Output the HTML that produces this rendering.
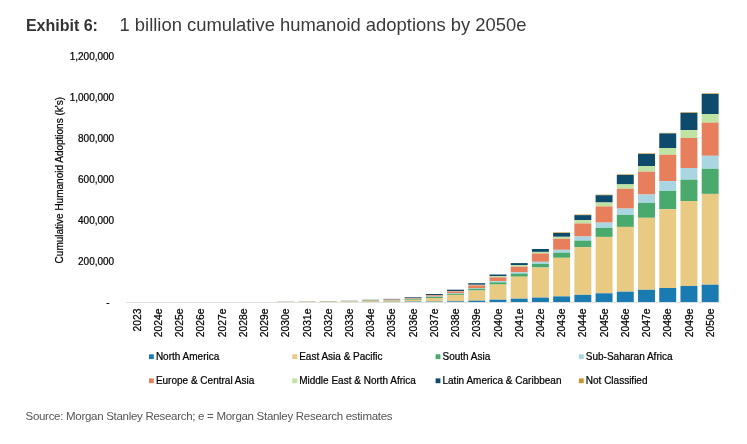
<!DOCTYPE html>
<html><head><meta charset="utf-8"><style>
html,body{margin:0;padding:0;background:#fff;}
body{width:747px;height:444px;position:relative;overflow:hidden;font-family:"Liberation Sans",sans-serif;}
svg{position:absolute;left:0;top:0;will-change:transform;}
.lab text{stroke:#000;stroke-width:0.22px;}
</style></head><body>
<svg width="747" height="444" viewBox="0 0 747 444" font-family="'Liberation Sans', sans-serif">
<text x="25.9" y="30.7" font-size="16" font-weight="bold" fill="#333">Exhibit 6:</text>
<text x="119.5" y="31.1" font-size="18.4" fill="#3a3a3a">1 billion cumulative humanoid adoptions by 2050e</text>
<g font-size="10" fill="#000" class="lab">
<text x="114.2" y="60.20" text-anchor="end">1,200,000</text>
<text x="114.2" y="101.16" text-anchor="end">1,000,000</text>
<text x="114.2" y="142.12" text-anchor="end">800,000</text>
<text x="114.2" y="183.08" text-anchor="end">600,000</text>
<text x="114.2" y="224.04" text-anchor="end">400,000</text>
<text x="114.2" y="265.00" text-anchor="end">200,000</text>
<text x="109.5" y="306.4" text-anchor="end">-</text>
</g>
<text transform="translate(62.9,263.4) rotate(-90)" font-size="10" fill="#000" stroke="#000" stroke-width="0.22">Cumulative Humanoid Adoptions (k's)</text>
<line x1="126" y1="302.5" x2="721" y2="302.5" stroke="#e0e0e0" stroke-width="1"/>
<g>
<rect x="277.29" y="301.50" width="16.95" height="0.10" fill="#0e4a6b"/>
<rect x="277.29" y="301.60" width="16.95" height="0.02" fill="#bfe3a2"/>
<rect x="277.29" y="301.62" width="16.95" height="0.08" fill="#e77f5d"/>
<rect x="277.29" y="301.70" width="16.95" height="0.05" fill="#a9d6e1"/>
<rect x="277.29" y="301.75" width="16.95" height="0.10" fill="#4aa96d"/>
<rect x="277.29" y="301.85" width="16.95" height="0.14" fill="#e8ca83"/>
<rect x="277.29" y="301.99" width="16.95" height="0.01" fill="#1a7bb3"/>
<rect x="298.51" y="301.20" width="16.95" height="0.10" fill="#0e4a6b"/>
<rect x="298.51" y="301.30" width="16.95" height="0.05" fill="#bfe3a2"/>
<rect x="298.51" y="301.35" width="16.95" height="0.15" fill="#e77f5d"/>
<rect x="298.51" y="301.50" width="16.95" height="0.05" fill="#a9d6e1"/>
<rect x="298.51" y="301.55" width="16.95" height="0.15" fill="#4aa96d"/>
<rect x="298.51" y="301.70" width="16.95" height="0.28" fill="#e8ca83"/>
<rect x="298.51" y="301.98" width="16.95" height="0.02" fill="#1a7bb3"/>
<rect x="319.73" y="301.00" width="16.95" height="0.15" fill="#0e4a6b"/>
<rect x="319.73" y="301.15" width="16.95" height="0.05" fill="#bfe3a2"/>
<rect x="319.73" y="301.20" width="16.95" height="0.20" fill="#e77f5d"/>
<rect x="319.73" y="301.40" width="16.95" height="0.05" fill="#a9d6e1"/>
<rect x="319.73" y="301.45" width="16.95" height="0.15" fill="#4aa96d"/>
<rect x="319.73" y="301.60" width="16.95" height="0.37" fill="#e8ca83"/>
<rect x="319.73" y="301.97" width="16.95" height="0.03" fill="#1a7bb3"/>
<rect x="340.95" y="300.80" width="16.95" height="0.20" fill="#0e4a6b"/>
<rect x="340.95" y="301.00" width="16.95" height="0.05" fill="#bfe3a2"/>
<rect x="340.95" y="301.05" width="16.95" height="0.25" fill="#e77f5d"/>
<rect x="340.95" y="301.30" width="16.95" height="0.05" fill="#a9d6e1"/>
<rect x="340.95" y="301.35" width="16.95" height="0.15" fill="#4aa96d"/>
<rect x="340.95" y="301.50" width="16.95" height="0.45" fill="#e8ca83"/>
<rect x="340.95" y="301.95" width="16.95" height="0.05" fill="#1a7bb3"/>
<rect x="362.17" y="299.80" width="16.95" height="0.40" fill="#0e4a6b"/>
<rect x="362.17" y="300.20" width="16.95" height="0.10" fill="#bfe3a2"/>
<rect x="362.17" y="300.30" width="16.95" height="0.40" fill="#e77f5d"/>
<rect x="362.17" y="300.70" width="16.95" height="0.10" fill="#a9d6e1"/>
<rect x="362.17" y="300.80" width="16.95" height="0.20" fill="#4aa96d"/>
<rect x="362.17" y="301.00" width="16.95" height="0.90" fill="#e8ca83"/>
<rect x="362.17" y="301.90" width="16.95" height="0.10" fill="#1a7bb3"/>
<rect x="383.39" y="298.90" width="16.95" height="0.60" fill="#0e4a6b"/>
<rect x="383.39" y="299.50" width="16.95" height="0.10" fill="#bfe3a2"/>
<rect x="383.39" y="299.60" width="16.95" height="0.50" fill="#e77f5d"/>
<rect x="383.39" y="300.10" width="16.95" height="0.10" fill="#a9d6e1"/>
<rect x="383.39" y="300.20" width="16.95" height="0.40" fill="#4aa96d"/>
<rect x="383.39" y="300.60" width="16.95" height="1.20" fill="#e8ca83"/>
<rect x="383.39" y="301.80" width="16.95" height="0.20" fill="#1a7bb3"/>
<rect x="404.61" y="297.00" width="16.95" height="0.80" fill="#0e4a6b"/>
<rect x="404.61" y="297.80" width="16.95" height="0.10" fill="#bfe3a2"/>
<rect x="404.61" y="297.90" width="16.95" height="0.80" fill="#e77f5d"/>
<rect x="404.61" y="298.70" width="16.95" height="0.20" fill="#a9d6e1"/>
<rect x="404.61" y="298.90" width="16.95" height="0.90" fill="#4aa96d"/>
<rect x="404.61" y="299.80" width="16.95" height="1.80" fill="#e8ca83"/>
<rect x="404.61" y="301.60" width="16.95" height="0.40" fill="#1a7bb3"/>
<rect x="425.83" y="294.00" width="16.95" height="1.10" fill="#0e4a6b"/>
<rect x="425.83" y="295.10" width="16.95" height="0.20" fill="#bfe3a2"/>
<rect x="425.83" y="295.30" width="16.95" height="1.20" fill="#e77f5d"/>
<rect x="425.83" y="296.50" width="16.95" height="0.30" fill="#a9d6e1"/>
<rect x="425.83" y="296.80" width="16.95" height="1.20" fill="#4aa96d"/>
<rect x="425.83" y="298.00" width="16.95" height="3.60" fill="#e8ca83"/>
<rect x="425.83" y="301.60" width="16.95" height="0.40" fill="#1a7bb3"/>
<rect x="447.05" y="289.70" width="16.95" height="1.40" fill="#0e4a6b"/>
<rect x="447.05" y="291.10" width="16.95" height="0.30" fill="#bfe3a2"/>
<rect x="447.05" y="291.40" width="16.95" height="1.70" fill="#e77f5d"/>
<rect x="447.05" y="293.10" width="16.95" height="0.60" fill="#a9d6e1"/>
<rect x="447.05" y="293.70" width="16.95" height="1.20" fill="#4aa96d"/>
<rect x="447.05" y="294.90" width="16.95" height="6.40" fill="#e8ca83"/>
<rect x="447.05" y="301.30" width="16.95" height="0.70" fill="#1a7bb3"/>
<rect x="468.27" y="283.20" width="16.95" height="1.60" fill="#0e4a6b"/>
<rect x="468.27" y="284.80" width="16.95" height="0.60" fill="#bfe3a2"/>
<rect x="468.27" y="285.40" width="16.95" height="2.70" fill="#e77f5d"/>
<rect x="468.27" y="288.10" width="16.95" height="0.60" fill="#a9d6e1"/>
<rect x="468.27" y="288.70" width="16.95" height="1.80" fill="#4aa96d"/>
<rect x="468.27" y="290.50" width="16.95" height="10.20" fill="#e8ca83"/>
<rect x="468.27" y="300.70" width="16.95" height="1.30" fill="#1a7bb3"/>
<rect x="489.49" y="274.50" width="16.95" height="1.70" fill="#0e4a6b"/>
<rect x="489.49" y="276.20" width="16.95" height="1.10" fill="#bfe3a2"/>
<rect x="489.49" y="277.30" width="16.95" height="3.80" fill="#e77f5d"/>
<rect x="489.49" y="281.10" width="16.95" height="1.20" fill="#a9d6e1"/>
<rect x="489.49" y="282.30" width="16.95" height="2.30" fill="#4aa96d"/>
<rect x="489.49" y="284.60" width="16.95" height="15.10" fill="#e8ca83"/>
<rect x="489.49" y="299.70" width="16.95" height="2.30" fill="#1a7bb3"/>
<rect x="510.71" y="263.10" width="16.95" height="2.00" fill="#0e4a6b"/>
<rect x="510.71" y="265.10" width="16.95" height="1.60" fill="#bfe3a2"/>
<rect x="510.71" y="266.70" width="16.95" height="5.50" fill="#e77f5d"/>
<rect x="510.71" y="272.20" width="16.95" height="1.40" fill="#a9d6e1"/>
<rect x="510.71" y="273.60" width="16.95" height="3.10" fill="#4aa96d"/>
<rect x="510.71" y="276.70" width="16.95" height="22.00" fill="#e8ca83"/>
<rect x="510.71" y="298.70" width="16.95" height="3.30" fill="#1a7bb3"/>
<rect x="531.93" y="249.00" width="16.95" height="2.90" fill="#0e4a6b"/>
<rect x="531.93" y="251.90" width="16.95" height="1.60" fill="#bfe3a2"/>
<rect x="531.93" y="253.50" width="16.95" height="8.30" fill="#e77f5d"/>
<rect x="531.93" y="261.80" width="16.95" height="2.10" fill="#a9d6e1"/>
<rect x="531.93" y="263.90" width="16.95" height="3.60" fill="#4aa96d"/>
<rect x="531.93" y="267.50" width="16.95" height="30.10" fill="#e8ca83"/>
<rect x="531.93" y="297.60" width="16.95" height="4.40" fill="#1a7bb3"/>
<rect x="553.15" y="232.35" width="16.95" height="0.60" fill="#c79529"/>
<rect x="553.15" y="232.95" width="16.95" height="3.85" fill="#0e4a6b"/>
<rect x="553.15" y="236.80" width="16.95" height="2.00" fill="#bfe3a2"/>
<rect x="553.15" y="238.80" width="16.95" height="11.00" fill="#e77f5d"/>
<rect x="553.15" y="249.80" width="16.95" height="2.90" fill="#a9d6e1"/>
<rect x="553.15" y="252.70" width="16.95" height="5.10" fill="#4aa96d"/>
<rect x="553.15" y="257.80" width="16.95" height="38.60" fill="#e8ca83"/>
<rect x="553.15" y="296.40" width="16.95" height="5.60" fill="#1a7bb3"/>
<rect x="574.37" y="214.55" width="16.95" height="0.60" fill="#c79529"/>
<rect x="574.37" y="215.15" width="16.95" height="5.05" fill="#0e4a6b"/>
<rect x="574.37" y="220.20" width="16.95" height="3.30" fill="#bfe3a2"/>
<rect x="574.37" y="223.50" width="16.95" height="13.00" fill="#e77f5d"/>
<rect x="574.37" y="236.50" width="16.95" height="4.10" fill="#a9d6e1"/>
<rect x="574.37" y="240.60" width="16.95" height="6.50" fill="#4aa96d"/>
<rect x="574.37" y="247.10" width="16.95" height="47.80" fill="#e8ca83"/>
<rect x="574.37" y="294.90" width="16.95" height="7.10" fill="#1a7bb3"/>
<rect x="595.59" y="194.65" width="16.95" height="0.60" fill="#c79529"/>
<rect x="595.59" y="195.25" width="16.95" height="7.25" fill="#0e4a6b"/>
<rect x="595.59" y="202.50" width="16.95" height="3.90" fill="#bfe3a2"/>
<rect x="595.59" y="206.40" width="16.95" height="16.20" fill="#e77f5d"/>
<rect x="595.59" y="222.60" width="16.95" height="5.30" fill="#a9d6e1"/>
<rect x="595.59" y="227.90" width="16.95" height="9.00" fill="#4aa96d"/>
<rect x="595.59" y="236.90" width="16.95" height="56.40" fill="#e8ca83"/>
<rect x="595.59" y="293.30" width="16.95" height="8.70" fill="#1a7bb3"/>
<rect x="616.81" y="174.35" width="16.95" height="0.60" fill="#c79529"/>
<rect x="616.81" y="174.95" width="16.95" height="9.45" fill="#0e4a6b"/>
<rect x="616.81" y="184.40" width="16.95" height="4.40" fill="#bfe3a2"/>
<rect x="616.81" y="188.80" width="16.95" height="19.80" fill="#e77f5d"/>
<rect x="616.81" y="208.60" width="16.95" height="6.30" fill="#a9d6e1"/>
<rect x="616.81" y="214.90" width="16.95" height="12.00" fill="#4aa96d"/>
<rect x="616.81" y="226.90" width="16.95" height="64.80" fill="#e8ca83"/>
<rect x="616.81" y="291.70" width="16.95" height="10.30" fill="#1a7bb3"/>
<rect x="638.03" y="153.35" width="16.95" height="0.60" fill="#c79529"/>
<rect x="638.03" y="153.95" width="16.95" height="12.05" fill="#0e4a6b"/>
<rect x="638.03" y="166.00" width="16.95" height="5.70" fill="#bfe3a2"/>
<rect x="638.03" y="171.70" width="16.95" height="22.80" fill="#e77f5d"/>
<rect x="638.03" y="194.50" width="16.95" height="8.40" fill="#a9d6e1"/>
<rect x="638.03" y="202.90" width="16.95" height="14.90" fill="#4aa96d"/>
<rect x="638.03" y="217.80" width="16.95" height="72.00" fill="#e8ca83"/>
<rect x="638.03" y="289.80" width="16.95" height="12.20" fill="#1a7bb3"/>
<rect x="659.25" y="132.85" width="16.95" height="0.60" fill="#c79529"/>
<rect x="659.25" y="133.45" width="16.95" height="14.55" fill="#0e4a6b"/>
<rect x="659.25" y="148.00" width="16.95" height="6.80" fill="#bfe3a2"/>
<rect x="659.25" y="154.80" width="16.95" height="26.30" fill="#e77f5d"/>
<rect x="659.25" y="181.10" width="16.95" height="9.80" fill="#a9d6e1"/>
<rect x="659.25" y="190.90" width="16.95" height="18.30" fill="#4aa96d"/>
<rect x="659.25" y="209.20" width="16.95" height="78.80" fill="#e8ca83"/>
<rect x="659.25" y="288.00" width="16.95" height="14.00" fill="#1a7bb3"/>
<rect x="680.47" y="112.25" width="16.95" height="0.60" fill="#c79529"/>
<rect x="680.47" y="112.85" width="16.95" height="17.25" fill="#0e4a6b"/>
<rect x="680.47" y="130.10" width="16.95" height="7.80" fill="#bfe3a2"/>
<rect x="680.47" y="137.90" width="16.95" height="30.10" fill="#e77f5d"/>
<rect x="680.47" y="168.00" width="16.95" height="11.70" fill="#a9d6e1"/>
<rect x="680.47" y="179.70" width="16.95" height="21.40" fill="#4aa96d"/>
<rect x="680.47" y="201.10" width="16.95" height="84.90" fill="#e8ca83"/>
<rect x="680.47" y="286.00" width="16.95" height="16.00" fill="#1a7bb3"/>
<rect x="701.69" y="93.35" width="16.95" height="0.60" fill="#c79529"/>
<rect x="701.69" y="93.95" width="16.95" height="20.05" fill="#0e4a6b"/>
<rect x="701.69" y="114.00" width="16.95" height="8.60" fill="#bfe3a2"/>
<rect x="701.69" y="122.60" width="16.95" height="33.20" fill="#e77f5d"/>
<rect x="701.69" y="155.80" width="16.95" height="13.00" fill="#a9d6e1"/>
<rect x="701.69" y="168.80" width="16.95" height="25.10" fill="#4aa96d"/>
<rect x="701.69" y="193.90" width="16.95" height="90.80" fill="#e8ca83"/>
<rect x="701.69" y="284.70" width="16.95" height="17.30" fill="#1a7bb3"/>
</g>
<g font-size="10" fill="#000" class="lab">
<text transform="translate(140.82,308.6) rotate(-90)" text-anchor="end" font-size="10.3">2023</text>
<text transform="translate(162.04,308.6) rotate(-90)" text-anchor="end" font-size="10.3">2024e</text>
<text transform="translate(183.26,308.6) rotate(-90)" text-anchor="end" font-size="10.3">2025e</text>
<text transform="translate(204.48,308.6) rotate(-90)" text-anchor="end" font-size="10.3">2026e</text>
<text transform="translate(225.70,308.6) rotate(-90)" text-anchor="end" font-size="10.3">2027e</text>
<text transform="translate(246.92,308.6) rotate(-90)" text-anchor="end" font-size="10.3">2028e</text>
<text transform="translate(268.15,308.6) rotate(-90)" text-anchor="end" font-size="10.3">2029e</text>
<text transform="translate(289.37,308.6) rotate(-90)" text-anchor="end" font-size="10.3">2030e</text>
<text transform="translate(310.59,308.6) rotate(-90)" text-anchor="end" font-size="10.3">2031e</text>
<text transform="translate(331.81,308.6) rotate(-90)" text-anchor="end" font-size="10.3">2032e</text>
<text transform="translate(353.03,308.6) rotate(-90)" text-anchor="end" font-size="10.3">2033e</text>
<text transform="translate(374.25,308.6) rotate(-90)" text-anchor="end" font-size="10.3">2034e</text>
<text transform="translate(395.47,308.6) rotate(-90)" text-anchor="end" font-size="10.3">2035e</text>
<text transform="translate(416.69,308.6) rotate(-90)" text-anchor="end" font-size="10.3">2036e</text>
<text transform="translate(437.91,308.6) rotate(-90)" text-anchor="end" font-size="10.3">2037e</text>
<text transform="translate(459.12,308.6) rotate(-90)" text-anchor="end" font-size="10.3">2038e</text>
<text transform="translate(480.35,308.6) rotate(-90)" text-anchor="end" font-size="10.3">2039e</text>
<text transform="translate(501.57,308.6) rotate(-90)" text-anchor="end" font-size="10.3">2040e</text>
<text transform="translate(522.78,308.6) rotate(-90)" text-anchor="end" font-size="10.3">2041e</text>
<text transform="translate(544.00,308.6) rotate(-90)" text-anchor="end" font-size="10.3">2042e</text>
<text transform="translate(565.23,308.6) rotate(-90)" text-anchor="end" font-size="10.3">2043e</text>
<text transform="translate(586.45,308.6) rotate(-90)" text-anchor="end" font-size="10.3">2044e</text>
<text transform="translate(607.66,308.6) rotate(-90)" text-anchor="end" font-size="10.3">2045e</text>
<text transform="translate(628.88,308.6) rotate(-90)" text-anchor="end" font-size="10.3">2046e</text>
<text transform="translate(650.11,308.6) rotate(-90)" text-anchor="end" font-size="10.3">2047e</text>
<text transform="translate(671.33,308.6) rotate(-90)" text-anchor="end" font-size="10.3">2048e</text>
<text transform="translate(692.55,308.6) rotate(-90)" text-anchor="end" font-size="10.3">2049e</text>
<text transform="translate(713.76,308.6) rotate(-90)" text-anchor="end" font-size="10.3">2050e</text>
</g>
<g font-size="10" fill="#000" class="lab">
<rect x="149.00" y="354.30" width="4.8" height="4.8" fill="#1a7bb3"/>
<text x="155.90" y="360.20">North America</text>
<rect x="292.30" y="354.30" width="4.8" height="4.8" fill="#e8ca83"/>
<text x="299.20" y="360.20">East Asia &amp; Pacific</text>
<rect x="435.60" y="354.30" width="4.8" height="4.8" fill="#4aa96d"/>
<text x="442.50" y="360.20">South Asia</text>
<rect x="578.90" y="354.30" width="4.8" height="4.8" fill="#a9d6e1"/>
<text x="585.80" y="360.20">Sub-Saharan Africa</text>
<rect x="149.00" y="378.40" width="4.8" height="4.8" fill="#e77f5d"/>
<text x="155.90" y="384.30">Europe &amp; Central Asia</text>
<rect x="292.30" y="378.40" width="4.8" height="4.8" fill="#bfe3a2"/>
<text x="299.20" y="384.30">Middle East &amp; North Africa</text>
<rect x="435.60" y="378.40" width="4.8" height="4.8" fill="#0e4a6b"/>
<text x="442.50" y="384.30">Latin America &amp; Caribbean</text>
<rect x="578.90" y="378.40" width="4.8" height="4.8" fill="#c79529"/>
<text x="585.80" y="384.30">Not Classified</text>
</g>
<text x="25.5" y="420.1" font-size="11.5" letter-spacing="-0.29" fill="#555">Source: Morgan Stanley Research; e = Morgan Stanley Research estimates</text>
</svg>
</body></html>
